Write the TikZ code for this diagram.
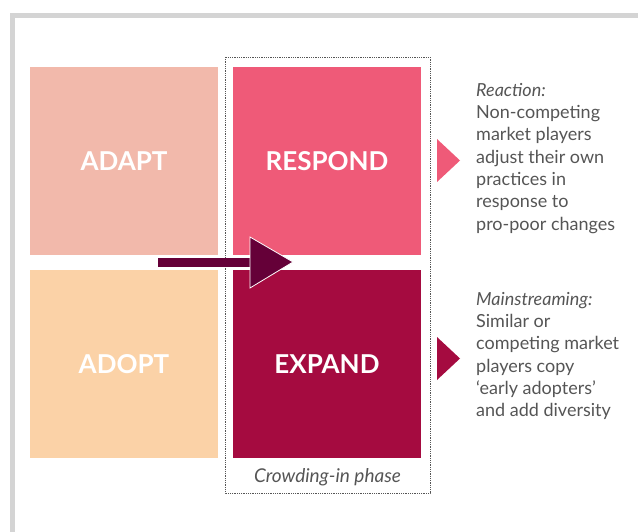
\documentclass[tikz,border=0pt]{standalone}
\usepackage{fontspec}
\setmainfont{Lato}
\definecolor{framegray}{HTML}{D4D4D4}
\definecolor{adaptc}{HTML}{F2B9AB}
\definecolor{respondc}{HTML}{EF5A78}
\definecolor{adoptc}{HTML}{FBD2A7}
\definecolor{expandc}{HTML}{A50B40}
\definecolor{arrowc}{HTML}{650038}
\definecolor{textc}{HTML}{555555}
\tikzset{>=stealth}
\tikzset{
  sq/.style={minimum size=188pt, inner sep=0pt, text=white,
    font=\fontsize{26}{28}\selectfont\bfseries},
  note/.style={anchor=north west, align=left, inner sep=0pt, text=textc,
    font=\fontsize{18}{22.3}\selectfont}
}

\begin{document}
\begin{tikzpicture}[x=1pt, y=-1pt]
    \useasboundingbox (0,0) rectangle (638,532);
    % grey frame
    \fill[framegray] (10,13) rectangle (638,18);
    \fill[framegray] (10,13) rectangle (15,532);
    % crowding-in box
    \draw[densely dotted, thick, textc] (225,57) rectangle (430,493);
    \node[text=textc, font=\fontsize{19}{20}\selectfont\itshape] (phase) at (327.5,477) {Crowding-in phase};
    % the four squares
    \node[sq, fill=adaptc] (adapt) at (124,161) {ADAPT};
    \node[sq, fill=respondc] (respond) at (327,161) {RESPOND};
    \node[sq, fill=adoptc] (adopt) at (124,364) {ADOPT};
    \node[sq, fill=expandc] (expand) at (327,364) {EXPAND};
    % big arrow
    \coordinate (T) at (293,262);
    \fill[arrowc] (158,258) rectangle (252,267);
    \draw[white, fill=arrowc, line width=0.8pt] (250,237) -- (T) -- (250,288) -- cycle;
    % pointers
    \fill[respondc] (437,139) -- (460,160.5) -- (437,182) -- cycle;
    \fill[expandc] (437,337) -- (460,358.5) -- (437,380) -- cycle;
    % notes
    \node[note] (reaction) at (476,83) {\textit{Reaction:}\\ Non-competing\\ market players\\ adjust their own\\ practices in\\ response to\\ pro-poor changes};
    \node[note] (mainstream) at (476,292) {\textit{Mainstreaming:}\\ Similar or\\ competing market\\ players copy\\ `early adopters'\\ and add diversity};
\end{tikzpicture}
\end{document}
